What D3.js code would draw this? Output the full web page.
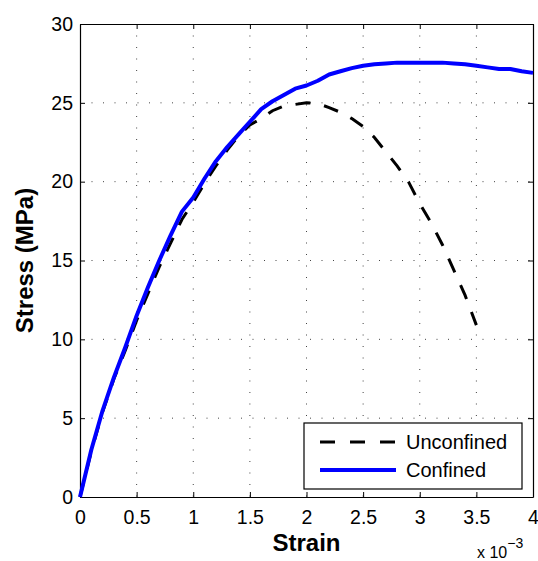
<!DOCTYPE html>
<html>
<head>
<meta charset="utf-8">
<script src="https://cdn.jsdelivr.net/npm/d3@7"></script>
<style>
  body { margin: 0; background: #fff; }
  svg { display: block; font-family: "Liberation Sans", Arial, sans-serif; }
</style>
</head>
<body>
<svg id="chart"></svg>
<script>
// strain values in units of 1e-3
const strainConfined = [0, 0.1, 0.2, 0.3, 0.4, 0.5, 0.6, 0.7, 0.8, 0.9, 1.0, 1.1, 1.2, 1.3, 1.4, 1.5, 1.6, 1.7, 1.8, 1.9, 2.0,
    2.1, 2.2, 2.3, 2.4, 2.5, 2.6, 2.7, 2.8, 2.9, 3.0, 3.1, 3.2, 3.3, 3.4, 3.5, 3.6, 3.7, 3.8, 3.9, 4.0];
const stressConfined = [0, 3.0, 5.5, 7.6, 9.5, 11.5, 13.3, 15.0, 16.6, 18.1, 19.0, 20.2, 21.3, 22.2, 23.0, 23.8, 24.6, 25.1, 25.5, 25.9, 26.1,
    26.4, 26.8, 27.0, 27.2, 27.35, 27.45, 27.5, 27.55, 27.55, 27.55, 27.55, 27.55, 27.5, 27.45, 27.35, 27.25, 27.15, 27.15, 27.0, 26.9];

const strainUnconfined = [0, 0.1, 0.2, 0.3, 0.4, 0.5, 0.6, 0.7, 0.8, 0.9, 1.0, 1.1, 1.2, 1.3, 1.4, 1.5, 1.6, 1.7, 1.8, 1.9, 2.0,
    2.1, 2.2, 2.3, 2.4, 2.5, 2.6, 2.7, 2.8, 2.9, 3.0, 3.1, 3.2, 3.3, 3.4, 3.5];
const stressUnconfined = [0, 2.9, 5.4, 7.5, 9.3, 11.2, 12.9, 14.6, 16.1, 17.6, 18.7, 19.9, 21.0, 22.0, 22.9, 23.6, 24.0, 24.5, 24.8, 24.9, 25.0,
    24.95, 24.7, 24.4, 24.0, 23.5, 22.8, 21.9, 21.0, 20.0, 18.6, 17.4, 16.0, 14.4, 12.8, 10.9];

const xTicks = [0, 0.5, 1, 1.5, 2, 2.5, 3, 3.5, 4];
const yTicks = [0, 5, 10, 15, 20, 25, 30];
const seriesNames = ["Unconfined", "Confined"];

class StressStrainChart {
    constructor(_config) {
        this.config = {
            parentElement: _config.parentElement,
            containerWidth: 538,
            containerHeight: 561,
            margin: { top: 24, right: 5, bottom: 64, left: 80 },
            tickLength: 5
        };
        this.initVis();
    }

    initVis() {
        let vis = this;
        const c = vis.config;
        c.width = c.containerWidth - c.margin.left - c.margin.right;
        c.height = c.containerHeight - c.margin.top - c.margin.bottom;

        vis.svg = d3.select(c.parentElement)
            .attr('width', c.containerWidth)
            .attr('height', c.containerHeight);

        vis.chart = vis.svg.append('g')
            .attr('transform', `translate(${c.margin.left},${c.margin.top})`);

        vis.xScale = d3.scaleLinear().domain([0, 4]).range([0, c.width]);
        vis.yScale = d3.scaleLinear().domain([0, 30]).range([c.height, 0]);

        vis.renderVis();
    }

    renderVis() {
        let vis = this;
        const c = vis.config;

        // dotted grid
        vis.chart.selectAll('.grid-x')
            .data(xTicks.slice(1, -1))
            .join('line')
            .attr('class', 'grid-x')
            .attr('x1', d => vis.xScale(d)).attr('x2', d => vis.xScale(d))
            .attr('y1', 0).attr('y2', c.height)
            .attr('stroke', '#444').attr('stroke-width', 1)
            .attr('stroke-dasharray', '1,10.5');

        vis.chart.selectAll('.grid-y')
            .data(yTicks.slice(1, -1))
            .join('line')
            .attr('class', 'grid-y')
            .attr('y1', d => vis.yScale(d)).attr('y2', d => vis.yScale(d))
            .attr('x1', 0).attr('x2', c.width)
            .attr('stroke', '#444').attr('stroke-width', 1)
            .attr('stroke-dasharray', '1,10.5');

        // axes, ticks pointing inward on all four sides
        const tl = c.tickLength;
        vis.chart.append('g')
            .attr('transform', `translate(0,${c.height})`)
            .call(d3.axisBottom(vis.xScale).tickValues(xTicks).tickSizeInner(-tl).tickSizeOuter(0).tickPadding(13).tickFormat(d3.format('')));
        vis.chart.append('g')
            .call(d3.axisTop(vis.xScale).tickValues(xTicks).tickSizeInner(-tl).tickSizeOuter(0).tickFormat(''));
        vis.chart.append('g')
            .call(d3.axisLeft(vis.yScale).tickValues(yTicks).tickSizeInner(-tl).tickSizeOuter(0).tickPadding(7));
        vis.chart.append('g')
            .attr('transform', `translate(${c.width},0)`)
            .call(d3.axisRight(vis.yScale).tickValues(yTicks).tickSizeInner(-tl).tickSizeOuter(0).tickFormat(''));

        vis.chart.selectAll('.domain').attr('stroke', '#000').attr('stroke-width', 1.2);
        vis.chart.selectAll('.tick line').attr('stroke', '#000');
        vis.chart.selectAll('.tick text')
            .attr('fill', '#000')
            .style('font-size', '19.5px')
            .style('font-family', '"Liberation Sans", Arial, sans-serif');

        // lines
        const line = d3.line()
            .x(d => vis.xScale(d[0]))
            .y(d => vis.yScale(d[1]));

        vis.chart.append('path')
            .datum(strainUnconfined.map((s, i) => [s, stressUnconfined[i]]))
            .attr('fill', 'none')
            .attr('stroke', '#000')
            .attr('stroke-width', 3)
            .attr('stroke-dasharray', '15,14')
            .attr('d', line);

        vis.chart.append('path')
            .datum(strainConfined.map((s, i) => [s, stressConfined[i]]))
            .attr('fill', 'none')
            .attr('stroke', '#0000ff')
            .attr('stroke-width', 4)
            .attr('stroke-linejoin', 'round')
            .attr('d', line);

        // axis labels
        vis.svg.append('text')
            .attr('x', c.margin.left + c.width / 2)
            .attr('y', 551)
            .attr('text-anchor', 'middle')
            .style('font-size', '24px')
            .style('font-weight', 'bold')
            .text('Strain');

        vis.svg.append('text')
            .attr('transform', `translate(33,${c.margin.top + c.height / 2}) rotate(-90)`)
            .attr('text-anchor', 'middle')
            .style('font-size', '24px')
            .style('font-weight', 'bold')
            .text('Stress (MPa)');

        // x 10^-3 multiplier
        const mult = vis.svg.append('text')
            .attr('x', 477)
            .attr('y', 558)
            .style('font-size', '16px');
        mult.append('tspan').text('x 10');
        mult.append('tspan').attr('dy', -10).style('font-size', '14px').text('\u22123');

        // legend
        const legend = vis.svg.append('g').attr('transform', 'translate(304,423)');
        legend.append('rect')
            .attr('width', 218).attr('height', 66)
            .attr('fill', '#fff').attr('stroke', '#000').attr('stroke-width', 1.2);

        const rows = legend.selectAll('.legend-row')
            .data(seriesNames)
            .join('g')
            .attr('class', 'legend-row')
            .attr('transform', (d, i) => `translate(0,${19 + i * 28})`);

        rows.append('line')
            .attr('x1', 16).attr('x2', 92)
            .attr('stroke', (d, i) => i === 0 ? '#000' : '#0000ff')
            .attr('stroke-width', (d, i) => i === 0 ? 3 : 4)
            .attr('stroke-dasharray', (d, i) => i === 0 ? '15,15' : null);

        rows.append('text')
            .attr('x', 102)
            .attr('y', 7)
            .style('font-size', '20px')
            .text(d => d);
    }
}

new StressStrainChart({ parentElement: '#chart' });
</script>
</body>
</html>
